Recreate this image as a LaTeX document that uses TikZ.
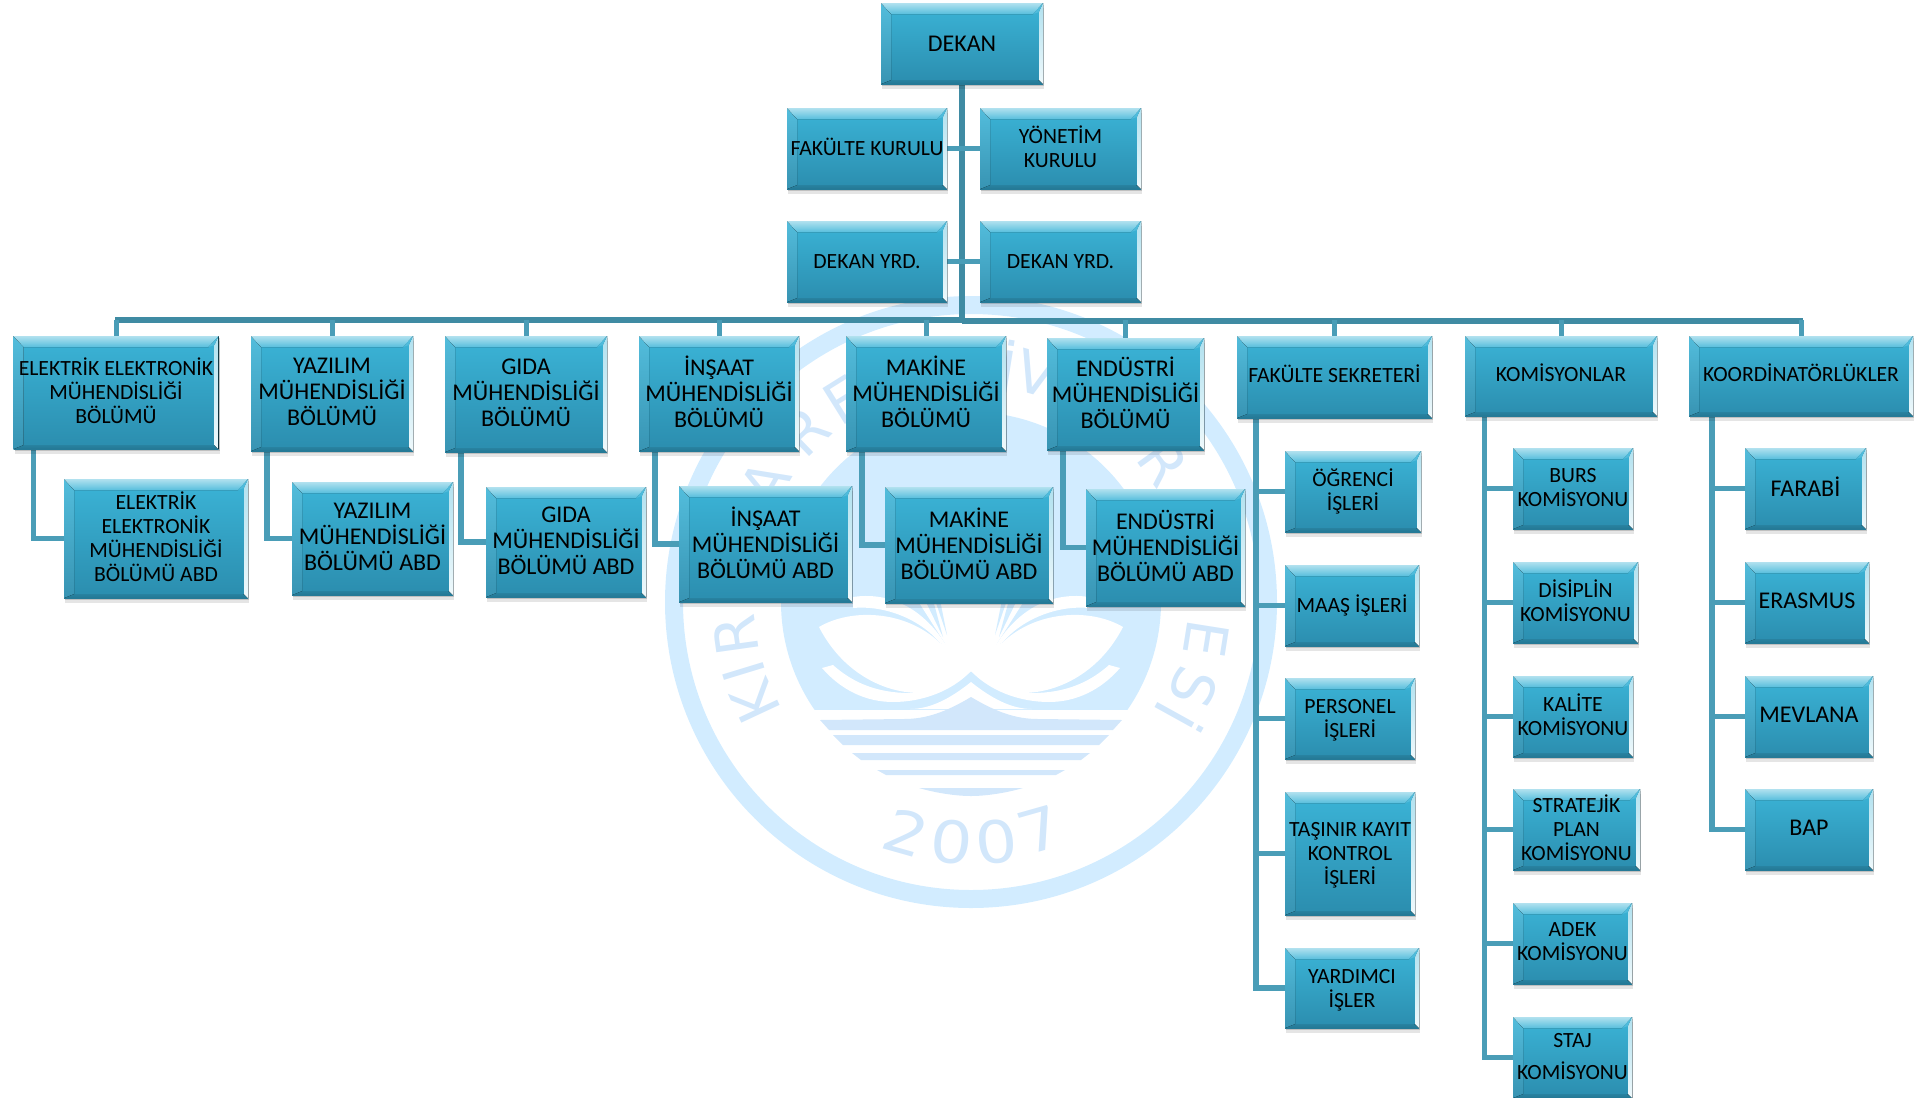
\documentclass[tikz,border=0pt]{standalone}
\usepackage{fontspec}
\setmainfont{Carlito}
\newfontfamily\logofont{DejaVu Sans}
\usetikzlibrary{shadows, backgrounds}

\definecolor{kutuust}{HTML}{3BB4D7}
\definecolor{kutualt}{HTML}{2B8DAE}
\definecolor{hatrenk}{HTML}{3F8BA3}
\definecolor{kolrenk}{HTML}{4A9DB7}
\definecolor{logomavi}{HTML}{D2ECFF}
\definecolor{logosu}{HTML}{D2E7FB}

\newcommand{\kucuk}{\fontsize{21.7}{24}\selectfont}
\newcommand{\buyuk}{\fontsize{24}{26}\selectfont}

\tikzset{
  kutu/.style 2 args={rectangle, inner sep=0pt, align=center, text=black,
    minimum width=#1, minimum height=#2, font=\kucuk, text depth=3pt,
    top color=kutuust, bottom color=kutualt,
    drop shadow={shadow xshift=1pt, shadow yshift=-2pt, fill=black, opacity=0.16},
    drop shadow={shadow xshift=1pt, shadow yshift=-4.5pt, fill=black, opacity=0.1},
    path picture={
      \coordinate (nw) at (path picture bounding box.north west);
      \coordinate (ne) at (path picture bounding box.north east);
      \coordinate (sw) at (path picture bounding box.south west);
      \coordinate (se) at (path picture bounding box.south east);
      \fill[top color=kutualt!92!black, bottom color=kutualt!85!black]
        (sw) -- (se) -- ([shift={(-5pt,4pt)}]se) -- ([shift={(10pt,4pt)}]sw) -- cycle;
      \fill[top color=kutuust!88!white, bottom color=kutualt!94!white]
        (nw) -- (sw) -- ([shift={(10pt,4pt)}]sw) -- ([shift={(10pt,-11pt)}]nw) -- cycle;
      \fill[top color=kutuust!40!white, bottom color=kutuust!85!white]
        (nw) -- (ne) -- ([shift={(-10pt,-11pt)}]ne) -- ([shift={(10pt,-11pt)}]nw) -- cycle;
      \fill[top color=kutuust!40!white, bottom color=kutuust!8!white]
        (ne) -- (se) -- ([shift={(-4pt,4pt)}]se) -- ([shift={(-4pt,-9pt)}]ne) -- cycle;
      \fill[kutuust!90!white]
        (ne) -- ([shift={(-10pt,-11pt)}]ne) -- ([shift={(-4pt,-9pt)}]ne) -- cycle;
    }},
  hat/.style={draw=hatrenk, line width=6.5pt},
  kol/.style={draw=kolrenk, line width=5.5pt},
  logoyazi/.style={text=logosu, font=\logofont\fontsize{58}{58}\selectfont, inner sep=0pt}
}

\begin{document}
\begin{tikzpicture}[x=1pt, y=-1pt]
    \useasboundingbox (0,0) rectangle (1923,1098);

    \node[kutu={162}{81}, font=\buyuk, text depth=0pt] (dekan) at (962,43.5) {DEKAN};
    \node[kutu={160}{81}] (fakkurul) at (867,148.5) {FAKÜLTE KURULU};
    \node[kutu={161}{81}] (yonetim) at (1060.5,148.5) {YÖNETİM\\KURULU};
    \node[kutu={160}{81}, text depth=0pt] (dekanyrdsol) at (867,261.5) {DEKAN YRD.};
    \node[kutu={161}{81}, text depth=0pt] (dekanyrdsag) at (1060.5,261.5) {DEKAN YRD.};

    \node[kutu={205}{113}] (elektrik) at (116,392.5) {ELEKTRİK ELEKTRONİK\\MÜHENDİSLİĞİ\\BÖLÜMÜ};
    \node[kutu={162}{115}, font=\buyuk] (yazilim) at (332,393.5) {YAZILIM\\MÜHENDİSLİĞİ\\BÖLÜMÜ};
    \node[kutu={162}{116}, font=\buyuk] (gida) at (526,394) {GIDA\\MÜHENDİSLİĞİ\\BÖLÜMÜ};
    \node[kutu={160}{115}, font=\buyuk] (insaat) at (719,393.5) {İNŞAAT\\MÜHENDİSLİĞİ\\BÖLÜMÜ};
    \node[kutu={160}{115}, font=\buyuk] (makine) at (926,393.5) {MAKİNE\\MÜHENDİSLİĞİ\\BÖLÜMÜ};
    \node[kutu={157}{112}, font=\buyuk] (endustri) at (1125.5,394) {ENDÜSTRİ\\MÜHENDİSLİĞİ\\BÖLÜMÜ};
    \node[kutu={195}{82}, text depth=6pt] (fsekreter) at (1334.5,377) {FAKÜLTE SEKRETERİ};
    \node[kutu={192}{80}, text depth=6pt] (komisyonlar) at (1561,376) {KOMİSYONLAR};
    \node[kutu={224}{80}, text depth=6pt] (koordinator) at (1801,376) {KOORDİNATÖRLÜKLER};

    \node[kutu={184}{119}] (elektrikabd) at (156,538.5) {ELEKTRİK\\ELEKTRONİK\\MÜHENDİSLİĞİ\\BÖLÜMÜ ABD};
    \node[kutu={161}{113}, font=\buyuk] (yazilimabd) at (372.5,538.5) {YAZILIM\\MÜHENDİSLİĞİ\\BÖLÜMÜ ABD};
    \node[kutu={160}{110}, font=\buyuk] (gidaabd) at (566,542) {GIDA\\MÜHENDİSLİĞİ\\BÖLÜMÜ ABD};
    \node[kutu={173}{116}, font=\buyuk] (insaatabd) at (765.5,544) {İNŞAAT\\MÜHENDİSLİĞİ\\BÖLÜMÜ ABD};
    \node[kutu={168}{116}, font=\buyuk] (makineabd) at (969,545) {MAKİNE\\MÜHENDİSLİĞİ\\BÖLÜMÜ ABD};
    \node[kutu={159}{117}, font=\buyuk] (endustriabd) at (1165.5,547.5) {ENDÜSTRİ\\MÜHENDİSLİĞİ\\BÖLÜMÜ ABD};

    \node[kutu={136}{81}] (ogrenci) at (1353,491.5) {ÖĞRENCİ\\İŞLERİ};
    \node[kutu={134}{81}] (maas) at (1352,605.5) {MAAŞ İŞLERİ};
    \node[kutu={130}{81}, text depth=0pt] (personel) at (1350,718.5) {PERSONEL\\İŞLERİ};
    \node[kutu={130}{123}, text depth=0pt] (tasinir) at (1350,853.5) {TAŞINIR KAYIT\\KONTROL\\İŞLERİ};
    \node[kutu={134}{80}, text depth=0pt] (yardimci) at (1352,988) {YARDIMCI\\İŞLER};

    \node[kutu={120}{81}] (burs) at (1573,488.5) {BURS\\KOMİSYONU};
    \node[kutu={125}{81}] (disiplin) at (1575.5,602.5) {DİSİPLİN\\KOMİSYONU};
    \node[kutu={120}{81}] (kalite) at (1573,716.5) {KALİTE\\KOMİSYONU};
    \node[kutu={127}{81}] (stratejik) at (1576.5,829.5) {STRATEJİK\\PLAN\\KOMİSYONU};
    \node[kutu={119}{81}] (adek) at (1572.5,943.5) {ADEK\\KOMİSYONU};
    \node[kutu={119}{81}] (staj) at (1572.5,1057.5) {STAJ\\[8pt]KOMİSYONU};

    \node[kutu={121}{81}, font=\buyuk] (farabi) at (1805.5,488.5) {FARABİ};
    \node[kutu={124}{81}, font=\buyuk] (erasmus) at (1807,602.5) {ERASMUS};
    \node[kutu={128}{81}, font=\buyuk] (mevlana) at (1809,716.5) {MEVLANA};
    \node[kutu={128}{81}, font=\buyuk] (bap) at (1809,829.5) {BAP};

    \coordinate (hatsol) at (115,320);
    \coordinate (hatsag) at (1803,321);

    \begin{scope}[on background layer]
        \fill[logomavi, even odd rule] (971,602) circle (306pt) (971,602) circle (288pt);
        \begin{scope}
            \clip (600,200) rectangle (1300,709);
            \fill[logomavi] (971,602) circle (190pt);
        \end{scope}
        \foreach \s in {1,-1} {
            \begin{scope}[shift={(971,0)}, xscale=\s]
                \fill[white] (-152,627) .. controls (-120,608) and (-65,610) .. (-31,643)
                    -- (0,650) -- (0,671) .. controls (-15,685) and (-30,692) .. (-51,693)
                    .. controls (-90,693) and (-130,670) .. (-152,627) -- cycle;
                \fill[white] (-118,597) .. controls (-85,592) and (-50,605) .. (-25,645)
                    -- (-31,643) .. controls (-50,620) and (-85,605) .. (-118,608) -- cycle;
                \fill[white] (-25,645) -- (-60,590) -- (0,590) -- (0,672) -- cycle;
                \fill[logomavi] (-46,600) -- (-28,637) -- (-38,600) -- cycle;
                \fill[logomavi] (-36,600) -- (-24,635) -- (-31,600) -- cycle;
                \fill[white] (-149,668) -- (-138,665) .. controls (-110,690) and (-80,694) .. (-51,693)
                    -- (0,671) .. controls (-20,692) and (-50,702) .. (-78,702)
                    .. controls (-105,702) and (-130,690) .. (-149,668) -- cycle;
                \fill[white] (0,682) .. controls (-20,698) and (-40,709) .. (-61,709) -- (0,709) -- cycle;
                \fill[logosu] (0,697) .. controls (-25,712) and (-45,719) .. (-67,719) -- (-151,720)
                    -- (-142,730) -- (0,730) -- cycle;
                \fill[logosu] (-138,735) -- (-128,745) -- (0,745) -- (0,735) -- cycle;
                \fill[logosu] (-119,753) -- (-110,760) -- (0,760) -- (0,753) -- cycle;
                \fill[logosu] (-94,770) -- (-85,775) -- (0,775) -- (0,770) -- cycle;
                \fill[logosu] (-52,788) .. controls (-35,793) and (-15,796) .. (0,796) -- (0,788) -- cycle;
            \end{scope}
        }
        \foreach \c/\a [count=\n] in {K/205,I/197,R/188,K/176,L/164,A/150,R/134,E/122,L/112,İ/105,
                                      Ü/98,N/88,İ/81,V/74,E/57,R/36,S/22,İ/14,T/4,E/-9,S/-21,İ/-29} {
            \node[logoyazi, rotate=\a-90] (harf\n) at ([shift={(\a:238pt)}]971,602) {\c};
        }
        \node[logoyazi, xscale=1.15, rotate=-18] (yil2) at (906,833) {2};
        \node[logoyazi, xscale=1.15, rotate=-5] (yil0a) at (952,842) {0};
        \node[logoyazi, xscale=1.15, rotate=5] (yil0b) at (997,842) {0};
        \node[logoyazi, xscale=1.15, rotate=18] (yil7) at (1040,830) {7};

        \path[hat] (hatsol) -- (hatsol -| dekan.south)
                   (hatsag) -- (hatsag -| dekan.south)
                   (dekan.south) -- (dekan.south |- hatsag);
        \path[kol] (fakkurul.east) -- (yonetim.west)
                   (dekanyrdsol.east) -- (dekanyrdsag.west);

        \foreach \k in {elektrik,yazilim,gida,insaat,makine,endustri,fsekreter,komisyonlar,koordinator} {
            \draw[draw=kolrenk, line width=5pt] (\k.north) -- (\k.north |- hatsol);
        }
        \draw[kol] ([xshift=20pt]elektrik.south west) |- (elektrikabd.west);
        \draw[kol] ([xshift=16pt]yazilim.south west) |- (yazilimabd.west);
        \draw[kol] ([xshift=16pt]gida.south west) |- (gidaabd.west);
        \draw[kol] ([xshift=16pt]insaat.south west) |- (insaatabd.west);
        \draw[kol] ([xshift=16pt]makine.south west) |- (makineabd.west);
        \draw[kol] ([xshift=16pt]endustri.south west) |- (endustriabd.west);
        \foreach \k in {ogrenci,maas,personel,tasinir,yardimci} {
            \draw[kol] ([xshift=19pt]fsekreter.south west) |- (\k.west);
        }
        \foreach \k in {burs,disiplin,kalite,stratejik,adek,staj} {
            \draw[kol] ([xshift=19.5pt]komisyonlar.south west) |- (\k.west);
        }
        \foreach \k in {farabi,erasmus,mevlana,bap} {
            \draw[kol] ([xshift=23pt]koordinator.south west) |- (\k.west);
        }
    \end{scope}
\end{tikzpicture}
\end{document}
